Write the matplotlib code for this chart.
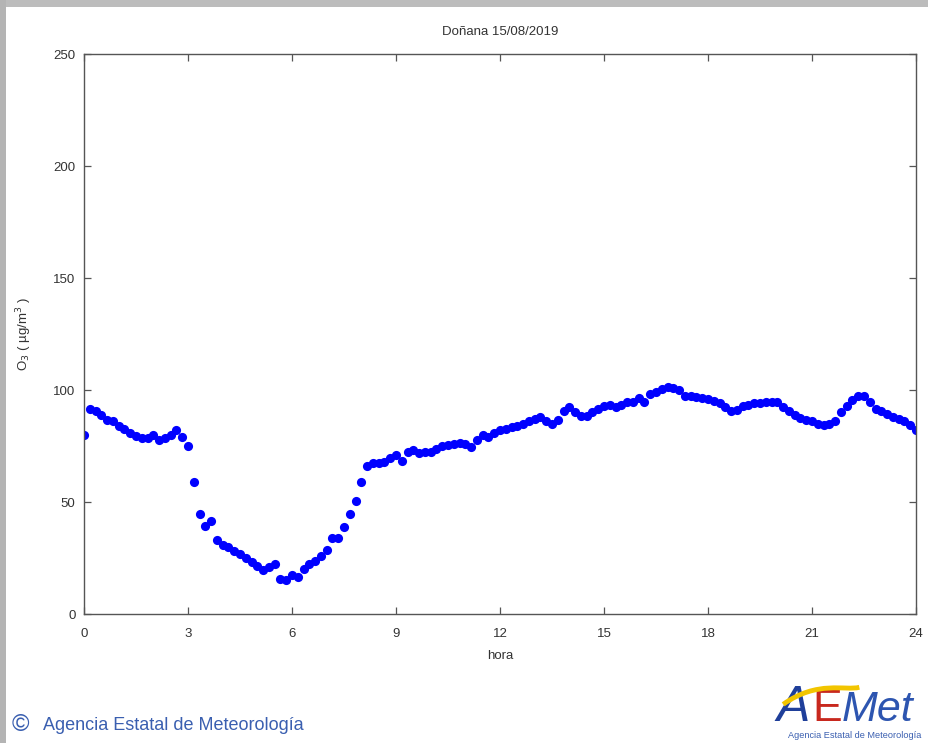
import numpy as np
import matplotlib
matplotlib.use("Agg")
import matplotlib.pyplot as plt
from matplotlib.patches import Rectangle
from matplotlib.path import Path
from matplotlib.patches import PathPatch

plt.rcParams['font.family'] = ['Liberation Sans', 'DejaVu Sans']

# ozone readings every 10 minutes, 00:00 .. 24:00
o3 = [
    80, 91.5, 90.5, 89, 86.5, 86,            # 0h
    84, 82.5, 81, 79.5, 78.5, 78.5,          # 1h
    80, 77.5, 78.5, 80, 82, 79,              # 2h
    75, 59, 44.5, 39.5, 41.5, 33,            # 3h
    31, 30, 28, 27, 25, 23,                  # 4h
    21.5, 19.5, 21, 22.5, 15.5, 15,          # 5h
    17.5, 16.5, 20, 22.5, 23.5, 26,          # 6h
    28.5, 34, 34, 39, 44.5, 50.5,            # 7h
    59, 66, 67.5, 67.5, 68, 69.5,            # 8h
    71, 68.5, 72.5, 73, 72, 72.5,            # 9h
    72.5, 73.5, 75, 75.5, 76, 76.5,          # 10h
    76, 74.5, 77.5, 80, 79, 81,              # 11h
    82, 82.5, 83.5, 84, 85, 86,              # 12h
    87, 88, 86, 85, 86.5, 90.5,              # 13h
    92.5, 90, 88.5, 88.5, 90, 91.5,          # 14h
    93, 93.5, 92.5, 93.5, 94.5, 94.5,        # 15h
    96.5, 94.5, 98, 99, 100.5, 101.5,        # 16h
    101, 100, 97.5, 97.5, 97, 96.5,          # 17h
    96, 95, 94, 92.5, 90.5, 91,              # 18h
    93, 93.5, 94, 94, 94.5, 94.5,            # 19h
    94.5, 92.5, 90.5, 89, 87.5, 86.5,        # 20h
    86, 85, 84.5, 85, 86, 90,                # 21h
    93, 95.5, 97.5, 97.5, 94.5, 91.5,        # 22h
    90.5, 89.5, 88, 87, 86, 84.5,            # 23h
    82,                                      # 24h
]
hora = np.arange(len(o3)) / 6.0

x_ticks = [0, 3, 6, 9, 12, 15, 18, 21, 24]
y_ticks = [0, 50, 100, 150, 200, 250]

fig = plt.figure(figsize=(9.29, 7.43), dpi=100)
fig.patch.set_facecolor('white')

# grey frame strips along the top and left edges
fig.patches.append(Rectangle((0, 0.99), 1, 0.01, transform=fig.transFigure,
                             facecolor='#bcbcbc', edgecolor='none', zorder=0))
fig.patches.append(Rectangle((0, 0), 0.006, 1, transform=fig.transFigure,
                             facecolor='#b4b4b4', edgecolor='none', zorder=0))

ax = fig.add_axes([0.0904, 0.1736, 0.8956, 0.7537])
ax.plot(hora, o3, 'o', color='#0000ff', markersize=6.6, markeredgewidth=0)

ax.set_xlim(0, 24)
ax.set_ylim(0, 250)
ax.set_xticks(x_ticks)
ax.set_yticks(y_ticks)
ax.tick_params(direction='in', length=5, width=0.9, top=True, right=True,
               labelsize=9.5, labelcolor='#333333', color='#555555', pad=6)
ax.tick_params(axis='x', pad=10)
for s in ax.spines.values():
    s.set_color('#555555')
    s.set_linewidth(1.0)

ax.set_title('Doñana 15/08/2019', fontsize=9.5, color='#333333', pad=14)
ax.set_xlabel('hora', fontsize=9.5, color='#333333', labelpad=7)
ax.set_ylabel('O$_3$ ( µg/m$^3$ )', fontsize=9.5, color='#333333', labelpad=14)

# footer credit
fig.text(0.013, 0.016, '©', fontsize=17, color='#3a5fb0', va='baseline')
fig.text(0.046, 0.018, 'Agencia Estatal de Meteorología', fontsize=13,
         color='#3a5fb0', va='baseline')

# AEMet logo
fig.text(0.836, 0.03, 'A', fontsize=36, color='#1f3f9a', va='baseline',
         fontstyle='italic', fontweight='light')
fig.text(0.874, 0.03, 'E', fontsize=32, color='#c8281e', va='baseline')
fig.text(0.906, 0.03, 'Met', fontsize=31, color='#2d55b0', va='baseline',
         fontstyle='italic')
swoosh = Path([(0.843, 0.052), (0.88, 0.085), (0.91, 0.07), (0.925, 0.075)],
              [Path.MOVETO, Path.CURVE4, Path.CURVE4, Path.CURVE4])
fig.patches.append(PathPatch(swoosh, transform=fig.transFigure, facecolor='none',
                             edgecolor='#f2c500', linewidth=3.5, zorder=5))
fig.text(0.848, 0.007, 'Agencia Estatal de Meteorología', fontsize=6.6,
         color='#3a5fb0', va='baseline')

fig.savefig('out.png', dpi=100, facecolor=fig.get_facecolor())
